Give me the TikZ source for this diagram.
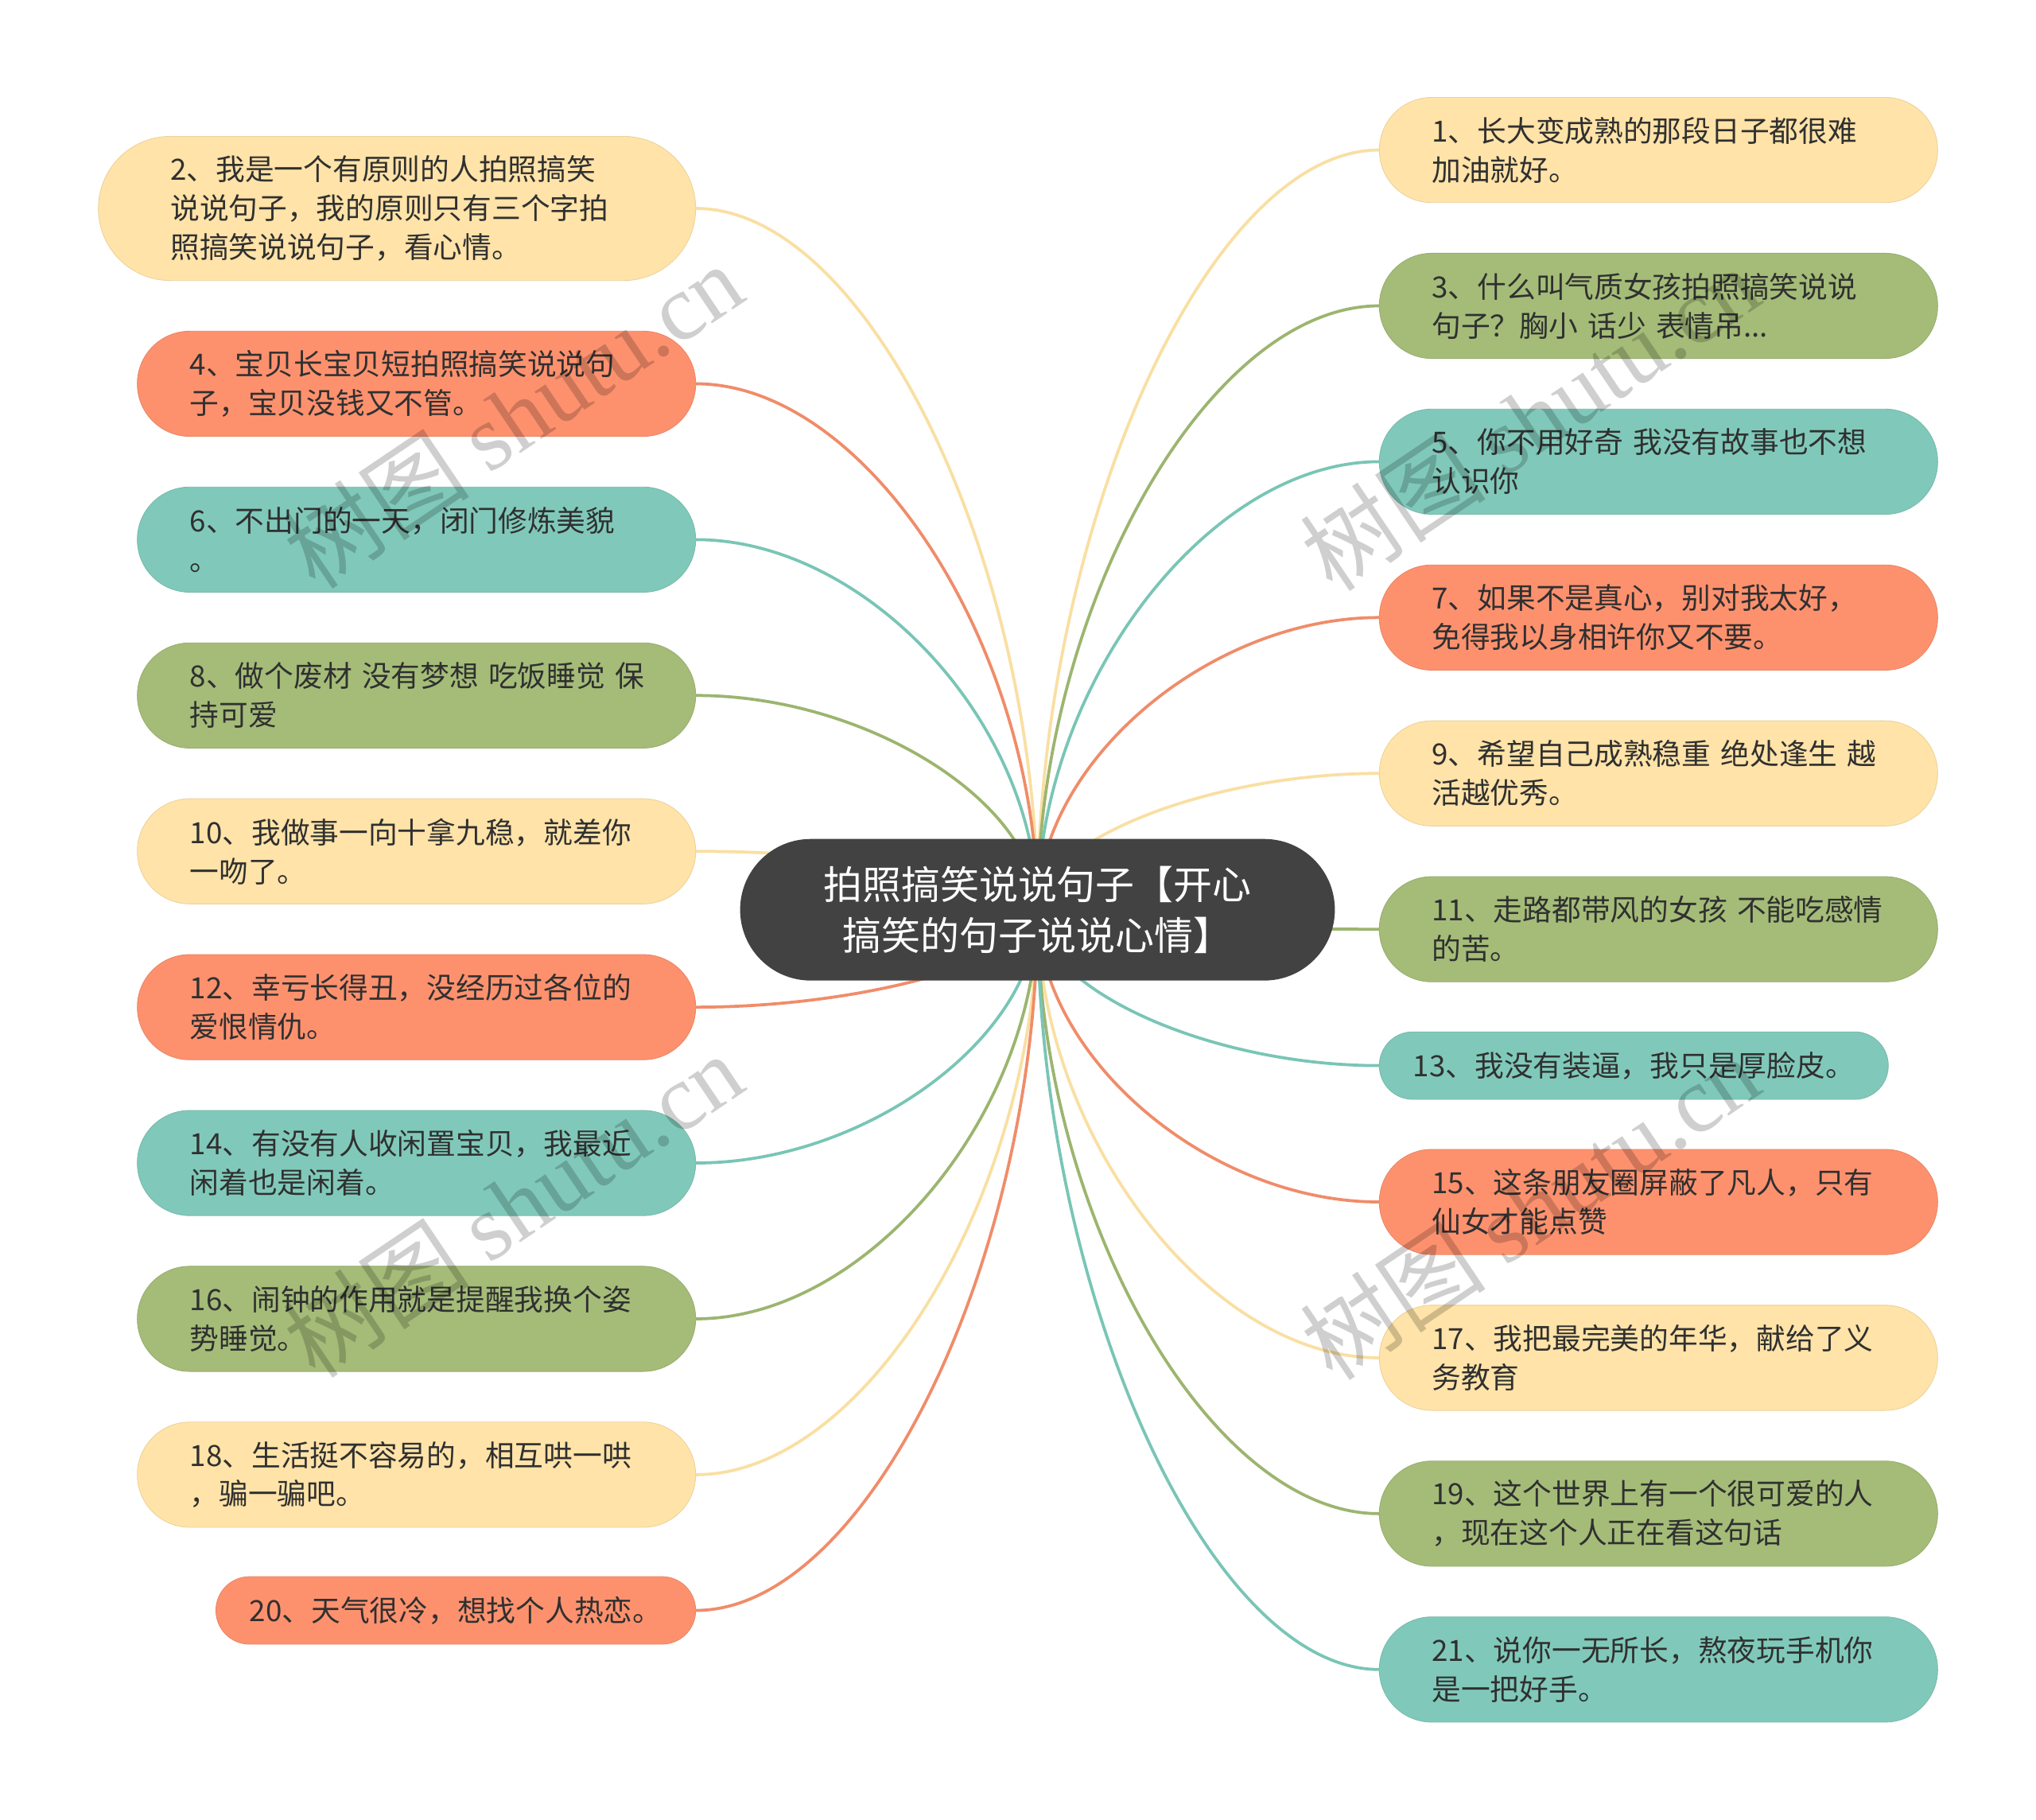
\documentclass[tikz,border=0pt]{standalone}
\usepackage{fontspec}
\setmainfont{Noto Sans CJK SC}
\newfontfamily\wmlatin{Liberation Serif}
\usetikzlibrary{calc}
\pgfdeclarelayer{bg}\pgfdeclarelayer{fg}
\pgfsetlayers{bg,main,fg}
\definecolor{cYel}{HTML}{FFE3A8}
\definecolor{cOra}{HTML}{FD916E}
\definecolor{cTea}{HTML}{80C9BA}
\definecolor{cGre}{HTML}{A4BC78}
\definecolor{lYel}{HTML}{F9DFA2}
\definecolor{lOra}{HTML}{F08C69}
\definecolor{lTea}{HTML}{79C5B6}
\definecolor{lGre}{HTML}{9CB56F}
\definecolor{cRoot}{HTML}{424242}
\definecolor{txt}{HTML}{303030}
\tikzset{
  leaf/.style={rectangle, font=\fontsize{22.5}{30}\selectfont, text=txt, align=left, inner ysep=0pt},
  twol/.style={leaf, minimum height=81pt, rounded corners=40.4pt, inner xsep=40.5pt, text width=349pt},
  threel/.style={leaf, minimum height=111pt, rounded corners=55.4pt, inner xsep=55.5pt, text width=349pt},
  onel/.style={leaf, minimum height=52pt, rounded corners=25.9pt, inner xsep=26pt},
  yel/.style={fill=cYel, draw=cYel!92!black, line width=0.5pt},
  ora/.style={fill=cOra, draw=cOra!92!black, line width=0.5pt},
  tea/.style={fill=cTea, draw=cTea!92!black, line width=0.5pt},
  gre/.style={fill=cGre, draw=cGre!92!black, line width=0.5pt},
  rootbox/.style={rectangle, fill=cRoot, text=white, font=\fontsize{30}{39}\selectfont, align=center,
    minimum width=458pt, minimum height=109pt, rounded corners=54.4pt, inner sep=0pt},
  conn/.style={line width=2.3pt},
  wm/.style={text=black, text opacity=0.19, font=\fontsize{72}{72}\selectfont, rotate=34, inner sep=0pt}
}
\newcommand\link[2]{%
  \draw[conn, #2] let \p1=(root.center), \p2=(#1) in
    (\p2) .. controls ({(\x1+\x2)/2},\y2) and (\x1,{(\y1+\y2)/2}) .. (\p1);}
\begin{document}
\begin{tikzpicture}[x=1pt, y=-1pt]
\useasboundingbox (0,0) rectangle (1568,1401);

\node[rootbox] (root) at (799,700.5) {拍照搞笑说说句子【开心\\搞笑的句子说说心情】};

% left side
\node[threel, yel, anchor=east] (n2) at (536,160.5) {2、我是一个有原则的人拍照搞笑\\说说句子，我的原则只有三个字拍\\照搞笑说说句子，看心情。};
\node[twol, ora, anchor=east] (n4) at (536,295.5) {4、宝贝长宝贝短拍照搞笑说说句\\子，宝贝没钱又不管。};
\node[twol, tea, anchor=east] (n6) at (536,415.5) {6、不出门的一天，闭门修炼美貌\\。};
\node[twol, gre, anchor=east] (n8) at (536,535.5) {8、做个废材~没有梦想~吃饭睡觉~保\\持可爱};
\node[twol, yel, anchor=east] (n10) at (536,655.5) {10、我做事一向十拿九稳，就差你\\一吻了。};
\node[twol, ora, anchor=east] (n12) at (536,775.5) {12、幸亏长得丑，没经历过各位的\\爱恨情仇。};
\node[twol, tea, anchor=east] (n14) at (536,895.5) {14、有没有人收闲置宝贝，我最近\\闲着也是闲着。};
\node[twol, gre, anchor=east] (n16) at (536,1015.5) {16、闹钟的作用就是提醒我换个姿\\势睡觉。};
\node[twol, yel, anchor=east] (n18) at (536,1135.5) {18、生活挺不容易的，相互哄一哄\\，骗一骗吧。};
\node[onel, ora, anchor=east] (n20) at (536,1240) {20、天气很冷，想找个人热恋。};

% right side
\node[twol, yel, anchor=west] (n1) at (1062,115.5) {1、长大变成熟的那段日子都很难\\加油就好。};
\node[twol, gre, anchor=west] (n3) at (1062,235.5) {3、什么叫气质女孩拍照搞笑说说\\句子？胸小~话少~表情吊...};
\node[twol, tea, anchor=west] (n5) at (1062,355.5) {5、你不用好奇~我没有故事也不想\\认识你};
\node[twol, ora, anchor=west] (n7) at (1062,475.5) {7、如果不是真心，别对我太好，\\免得我以身相许你又不要。};
\node[twol, yel, anchor=west] (n9) at (1062,595.5) {9、希望自己成熟稳重~绝处逢生~越\\活越优秀。};
\node[twol, gre, anchor=west] (n11) at (1062,715.5) {11、走路都带风的女孩~不能吃感情\\的苦。};
\node[onel, tea, anchor=west] (n13) at (1062,820.5) {13、我没有装逼，我只是厚脸皮。};
\node[twol, ora, anchor=west] (n15) at (1062,925.5) {15、这条朋友圈屏蔽了凡人，只有\\仙女才能点赞};
\node[twol, yel, anchor=west] (n17) at (1062,1045.5) {17、我把最完美的年华，献给了义\\务教育};
\node[twol, gre, anchor=west] (n19) at (1062,1165.5) {19、这个世界上有一个很可爱的人\\，现在这个人正在看这句话};
\node[twol, tea, anchor=west] (n21) at (1062,1285.5) {21、说你一无所长，熬夜玩手机你\\是一把好手。};

\begin{pgfonlayer}{bg}
\fill[white] (0,0) rectangle (1568,1401);
\link{n2.east}{lYel}
\link{n4.east}{lOra}
\link{n6.east}{lTea}
\link{n8.east}{lGre}
\link{n10.east}{lYel}
\link{n12.east}{lOra}
\link{n14.east}{lTea}
\link{n16.east}{lGre}
\link{n18.east}{lYel}
\link{n20.east}{lOra}
\link{n1.west}{lYel}
\link{n3.west}{lGre}
\link{n5.west}{lTea}
\link{n7.west}{lOra}
\link{n9.west}{lYel}
\link{n11.west}{lGre}
\link{n13.west}{lTea}
\link{n15.west}{lOra}
\link{n17.west}{lYel}
\link{n19.west}{lGre}
\link{n21.west}{lTea}
\end{pgfonlayer}

\begin{pgfonlayer}{fg}
\node[wm] (wm1) at (395,320) {树图 {\wmlatin shutu.cn}};
\node[wm] (wm2) at (1178,322) {树图 {\wmlatin shutu.cn}};
\node[wm] (wm3) at (395,928) {树图 {\wmlatin shutu.cn}};
\node[wm] (wm4) at (1178,930) {树图 {\wmlatin shutu.cn}};
\end{pgfonlayer}
\end{tikzpicture}
\end{document}
